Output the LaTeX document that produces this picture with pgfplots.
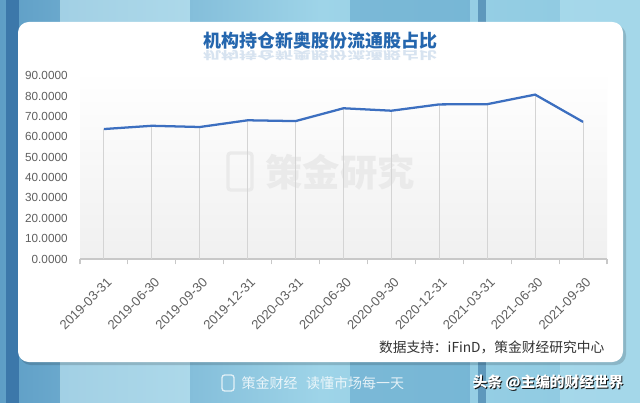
\documentclass[border=0pt]{standalone}
\usepackage{fontspec}
\usepackage{pgfplots}
\pgfplotsset{compat=1.18}
\setmainfont{Liberation Sans}
\newfontfamily\cjk{Noto Sans CJK SC}
\definecolor{bgL}{HTML}{5E9EC6}
\definecolor{bgM}{HTML}{9ED4E8}
\definecolor{bgR}{HTML}{8CC8E0}
\definecolor{lineblue}{HTML}{3C6FC0}
\definecolor{titleblue}{HTML}{2466AE}
\definecolor{ticktxt}{HTML}{606060}
\begin{document}
\begin{tikzpicture}
\begin{scope}[x=0.75pt,y=-0.75pt]
\path[use as bounding box] (0,0) rectangle (640,403);
\shade[left color=bgL, right color=bgR, middle color=bgM] (0,0) rectangle (640,403);
\fill[color={rgb,255:red,60;green,120;blue,170}] (6,0) rectangle (19,403);
\fill[color={rgb,255:red,200;green,235;blue,245}, opacity=0.6] (60,0) rectangle (190,403);
\fill[color={rgb,255:red,90;green,160;blue,200}, opacity=0.5] (350,0) rectangle (470,403);
\fill[color={rgb,255:red,40;green,100;blue,150}, opacity=0.5] (478,0) rectangle (486,403);
\fill[color={rgb,255:red,180;green,225;blue,240}, opacity=0.6] (560,0) rectangle (640,403);
\fill[black, opacity=0.15, rounded corners=8pt] (20,25) rectangle (626,365);
\fill[white, rounded corners=8pt] (18,22) rectangle (623,362);
\shade[top color=white, bottom color={rgb,255:red,240;green,240;blue,240}] (80,70) rectangle (607,259);
% watermark
\node[text={rgb,255:red,234;green,234;blue,234}, font=\cjk\bfseries\fontsize{28}{30}\selectfont, anchor=center] at (340,172) {策金研究};
\draw[color={rgb,255:red,234;green,234;blue,234}, line width=2.5pt, rounded corners=2pt] (228,153) rectangle (252,190);
% title
\node[text=titleblue, font=\cjk\bfseries\fontsize{13.5}{15}\selectfont] at (320,41) {机构持仓新奥股份流通股占比};
\node[text=titleblue, opacity=0.18, yscale=-0.6, font=\cjk\bfseries\fontsize{13.5}{15}\selectfont] at (320,56) {机构持仓新奥股份流通股占比};
% source
\node[anchor=east, text={rgb,255:red,51;green,51;blue,51}, font=\cjk\fontsize{10.3}{12}\selectfont] at (609,347) {数据支持：iFinD，策金财经研究中心};
% bottom
\draw[white, opacity=0.75, line width=1pt, rounded corners=2pt] (222,375) rectangle (234,391);
\node[anchor=west, text=white, opacity=0.8, font=\cjk\fontsize{10.5}{12}\selectfont] at (237,383) {策金财经\hspace{0.6em}读懂市场每一天};
\node[anchor=east, text={rgb,255:red,20;green,20;blue,20}, font=\cjk\bfseries\fontsize{11}{12}\selectfont] at (629,384) {头条 @主编的财经世界};
\node[anchor=east, text=white, font=\cjk\bfseries\fontsize{11}{12}\selectfont] at (628,383) {头条 @主编的财经世界};
\end{scope}
\begin{axis}[
  at={(60pt,-194.25pt)}, anchor=south west,
  scale only axis, width=395.25pt, height=137.5pt,
  xmin=-0.5, xmax=10.5, ymin=0, ymax=90,
  axis x line*=bottom, axis y line*=left,
  y axis line style={draw=none},
  x axis line style={draw={rgb,255:red,200;green,200;blue,200}, line width=0.8pt},
  ytick={0,10,...,90},
  ytick style={draw=none},
  xtick={0,...,10},
  major x tick style={draw=none},
  minor xtick={-0.5,0.5,...,10.5},
  minor x tick style={draw={rgb,255:red,200;green,200;blue,200}, line width=0.8pt},
  minor tick length=4pt,
  tick align=outside,
  xticklabels={2019-03-31,2019-06-30,2019-09-30,2019-12-31,2020-03-31,2020-06-30,2020-09-30,2020-12-31,2021-03-31,2021-06-30,2021-09-30},
  xticklabel style={xshift=1.5pt, yshift=-7.5pt, rotate=45, anchor=north east, font=\fontsize{9.8}{11}\selectfont, text=ticktxt, inner sep=1pt},
  yticklabel style={font=\fontsize{8.8}{10}\selectfont, text=ticktxt, anchor=east, xshift=-1.5pt},
  /pgf/number format/assume math mode=true,
  yticklabel={\pgfmathprintnumber[fixed, fixed zerofill, precision=4]{\tick}},
  clip=false,
]
\addplot[ycomb, draw={rgb,255:red,212;green,212;blue,212}, line width=0.7pt, no marks] table {
x y
0 63.8
1 65.4
2 64.8
3 68.1
4 67.7
5 74.0
6 72.8
7 75.9
8 76.0
9 80.7
10 67.3
};
\addplot[draw=lineblue, line width=1.7pt, no marks] table {
x y
0 63.8
1 65.4
2 64.8
3 68.1
4 67.7
5 74.0
6 72.8
7 75.9
8 76.0
9 80.7
10 67.3
};
\end{axis}
\end{tikzpicture}
\end{document}
